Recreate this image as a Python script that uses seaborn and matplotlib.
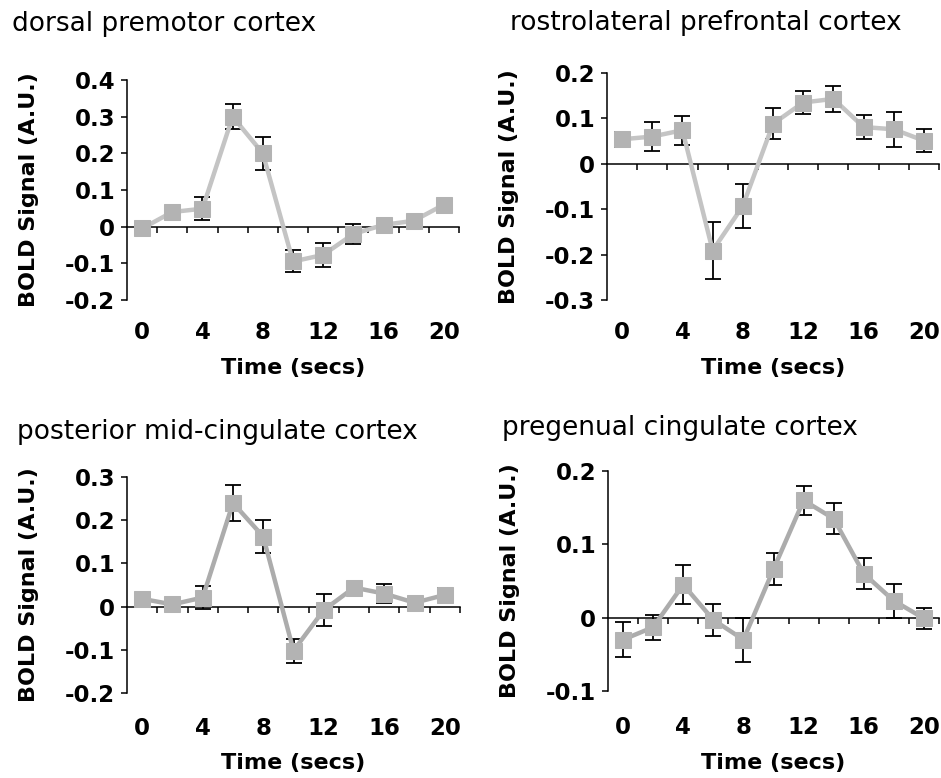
import numpy as np
import pandas as pd
import matplotlib
matplotlib.use('Agg')
import matplotlib.pyplot as plt
import seaborn as sns

# --- data ---
time_s = [0, 2, 4, 6, 8, 10, 12, 14, 16, 18, 20]

dpmc_mean = [-0.005, 0.04, 0.049, 0.30, 0.20, -0.095, -0.077, -0.02, 0.005, 0.016, 0.06]
dpmc_err = [0.012, 0.01, 0.032, 0.035, 0.045, 0.03, 0.032, 0.028, 0.01, 0.01, 0.01]

rlpfc_mean = [0.054, 0.06, 0.074, -0.191, -0.093, 0.088, 0.135, 0.143, 0.081, 0.076, 0.051]
rlpfc_err = [0.016, 0.032, 0.032, 0.063, 0.048, 0.034, 0.026, 0.028, 0.026, 0.038, 0.025]

pmcc_mean = [0.018, 0.005, 0.021, 0.24, 0.162, -0.102, -0.008, 0.044, 0.03, 0.009, 0.027]
pmcc_err = [0.008, 0.014, 0.026, 0.041, 0.038, 0.028, 0.038, 0.012, 0.022, 0.008, 0.015]

pgcc_mean = [-0.03, -0.013, 0.045, -0.003, -0.03, 0.066, 0.16, 0.135, 0.06, 0.023, -0.001]
pgcc_err = [0.024, 0.017, 0.027, 0.022, 0.03, 0.022, 0.02, 0.021, 0.021, 0.023, 0.014]

titles = ['dorsal premotor cortex', 'rostrolateral prefrontal cortex',
          'posterior mid-cingulate cortex', 'pregenual cingulate cortex']
y_ticks = [[-0.2, -0.1, 0, 0.1, 0.2, 0.3, 0.4],
           [-0.3, -0.2, -0.1, 0, 0.1, 0.2],
           [-0.2, -0.1, 0, 0.1, 0.2, 0.3],
           [-0.1, 0, 0.1, 0.2]]
x_labels = [0, 4, 8, 12, 16, 20]

means = [dpmc_mean, rlpfc_mean, pmcc_mean, pgcc_mean]
errs = [dpmc_err, rlpfc_err, pmcc_err, pgcc_err]

# --- layout (pixels of a 941x778 canvas) ---
W, H = 941, 778
boxes = [(127, 459, 80, 300), (607, 939, 73, 300),
         (127, 460, 477, 693), (608, 939, 471, 691)]
title_pos = [(12, 24), (510, 23), (17, 432), (502, 428)]
line_colors = ['#c4c4c4', '#c4c4c4', '#acacac', '#acacac']
tick_pad = [15, 15, 17, 18]

sns.set_style('white')
plt.rcParams['font.family'] = ['DejaVu Sans']
plt.rcParams.update({'text.color': 'black', 'axes.labelcolor': 'black',
                     'xtick.color': 'black', 'ytick.color': 'black'})

fig = plt.figure(figsize=(W / 100, H / 100), dpi=100)

fmt_tick = lambda v: '0' if abs(v) < 1e-9 else f'{v:.1f}'

for i in range(4):
    l, r, t, b = boxes[i]
    ax = fig.add_axes([l / W, 1 - b / H, (r - l) / W, (b - t) / H])
    df = pd.DataFrame({'time': time_s, 'signal': means[i]})

    ax.errorbar(df['time'], df['signal'], yerr=errs[i], fmt='none',
                ecolor='black', elinewidth=1.3, capsize=6, capthick=1.3, zorder=2)
    sns.lineplot(data=df, x='time', y='signal', ax=ax, color=line_colors[i],
                 lw=3.2, marker='s', markersize=12, markerfacecolor='#b3b3b3',
                 markeredgecolor='#b3b3b3', zorder=3)

    yt = y_ticks[i]
    ax.set_ylim(yt[0], yt[-1])
    ax.set_xlim(-1, 21)
    ax.set_yticks(yt)
    ax.set_yticklabels([fmt_tick(v) for v in yt], fontsize=16.5, fontweight='bold')
    ax.tick_params(axis='y', direction='out', length=4.5, width=1.1, pad=4, left=True)

    # category-style x axis crossing at zero, ticks between points
    for s in ['top', 'right']:
        ax.spines[s].set_visible(False)
    ax.spines['bottom'].set_position(('data', 0))
    ax.spines['left'].set_color('black')
    ax.spines['bottom'].set_color('black')
    ax.spines['left'].set_linewidth(1.1)
    ax.spines['bottom'].set_linewidth(1.1)
    ax.set_xticks(np.arange(1, 22, 2))
    ax.set_xticklabels([])
    ax.tick_params(axis='x', direction='out', length=4.5, width=1.1, bottom=True)
    ax.set_xlabel('')
    ax.set_ylabel('BOLD Signal (A.U.)', fontsize=16, fontweight='bold')
    ax.yaxis.set_label_coords(-0.265, 0.5)

    sec = ax.secondary_xaxis('bottom')
    sec.spines['bottom'].set_visible(False)
    sec.set_xticks(x_labels)
    sec.set_xticklabels([str(v) for v in x_labels], fontsize=16.5, fontweight='bold')
    sec.tick_params(length=0, pad=tick_pad[i])
    sec.set_xlabel('Time (secs)', fontsize=16, fontweight='bold', labelpad=10)

    fig.text(title_pos[i][0] / W, 1 - title_pos[i][1] / H, titles[i],
             fontsize=19, ha='left', va='center')

fig.savefig('out.png', dpi=100, facecolor='white')
